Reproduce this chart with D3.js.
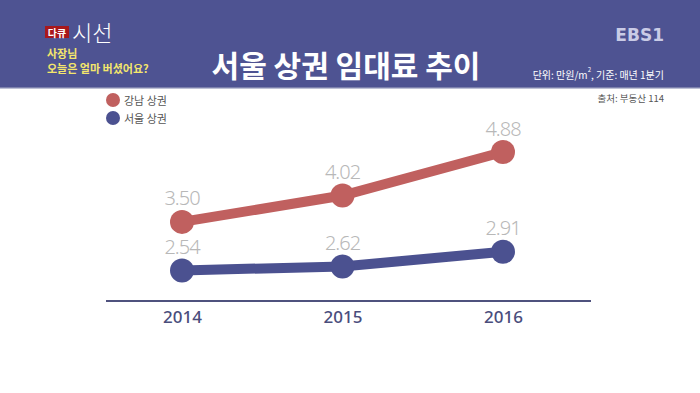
<!DOCTYPE html>
<html>
<head>
<meta charset="utf-8">
<script src="https://cdn.jsdelivr.net/npm/d3@7"></script>
<style>
  body { margin: 0; background: #fff; }
  text { font-family: "Noto Sans CJK KR", "Noto Sans", sans-serif; }
</style>
</head>
<body>
<div id="chart"></div>
<script>
/*
    서울 상권 임대료 추이 (단위: 만원/m²)
 */

var years = ['2014', '2015', '2016'];
var series_names = ['강남 상권', '서울 상권'];
var gangnam_values = [3.50, 4.02, 4.88];
var seoul_values = [2.54, 2.62, 2.91];
var series_colors = ['#c0605f', '#4b5190'];

var svg_size = {
    'width': 700,
    'height': 393
};

var svg = d3.select("#chart")
    .append("svg")
    .attr('width', svg_size.width)
    .attr('height', svg_size.height);

// header band
svg.append('rect')
    .attr('x', 0).attr('y', 0)
    .attr('width', svg_size.width).attr('height', 87)
    .style('fill', '#4e5392');
svg.append('rect')
    .attr('x', 0).attr('y', 87)
    .attr('width', svg_size.width).attr('height', 1.5)
    .style('fill', '#7d81ad');

// program logo
svg.append('rect')
    .attr('x', 45).attr('y', 26)
    .attr('width', 24).attr('height', 12)
    .style('fill', '#a8181c');
svg.append('text')
    .attr('x', 57).attr('y', 32)
    .attr('text-anchor', 'middle')
    .attr('dominant-baseline', 'central')
    .style('font-size', '10px').style('font-weight', 'bold')
    .style('fill', '#fff')
    .text('다큐');
svg.append('text')
    .attr('x', 72).attr('y', 41)
    .style('font-size', '22px').style('font-weight', '300')
    .style('fill', '#fff')
    .text('시선');
svg.append('text')
    .attr('x', 47).attr('y', 53)
    .attr('dominant-baseline', 'central')
    .style('font-size', '11px').style('font-weight', 'bold')
    .style('fill', '#f4e66c')
    .text('사장님');
svg.append('text')
    .attr('x', 47).attr('y', 68)
    .attr('dominant-baseline', 'central')
    .style('font-size', '11px').style('font-weight', 'bold')
    .style('fill', '#f4e66c')
    .text('오늘은 얼마 버셨어요?');

// title
svg.append('text')
    .attr('x', 346).attr('y', 64)
    .attr('text-anchor', 'middle')
    .attr('dominant-baseline', 'central')
    .style('font-size', '30px').style('font-weight', 'bold')
    .style('fill', '#fff')
    .text('서울 상권 임대료 추이');

svg.append('text')
    .attr('x', 664).attr('y', 35)
    .attr('text-anchor', 'end')
    .attr('dominant-baseline', 'central')
    .style('font-family', '"DejaVu Sans"')
    .style('font-size', '17px').style('font-weight', 'bold')
    .style('fill', '#c9cbe6')
    .text('EBS1');

var unit_text = svg.append('text')
    .attr('x', 664).attr('y', 74)
    .attr('text-anchor', 'end')
    .attr('dominant-baseline', 'central')
    .style('font-size', '10px')
    .style('fill', '#fff');
unit_text.append('tspan').text('단위: 만원/m');
unit_text.append('tspan').attr('dy', -5).style('font-size', '6px').text('2');
unit_text.append('tspan').attr('dy', 5).text(', 기준: 매년 1분기');

svg.append('text')
    .attr('x', 664).attr('y', 98)
    .attr('text-anchor', 'end')
    .attr('dominant-baseline', 'central')
    .style('font-size', '9.5px')
    .style('fill', '#555')
    .text('출처: 부동산 114');

// legend
var legend = svg.selectAll('.legend-entry')
    .data(series_names)
    .enter()
    .append('g')
    .attr('transform', function(d, i){
        return 'translate(113,' + (100 + 18*i) + ')';
    })
    .classed('legend-entry', true);
legend.append('circle')
    .attr('r', 7)
    .style('fill', function(d, i){ return series_colors[i]; });
legend.append('text')
    .attr('x', 11)
    .attr('dominant-baseline', 'central')
    .style('font-size', '11px')
    .style('fill', '#555')
    .text(function(d){ return d; });

// scales
var x_scale = d3.scalePoint()
    .domain(years)
    .range([182, 503]);

var y_scale = d3.scaleLinear()
    .domain([2.5, 4.9])
    .range([272.5, 151]);

// axis
var x_axis = d3.axisBottom(x_scale).tickSize(0).tickPadding(10);
var axis_group = svg.append('g')
    .attr('transform', 'translate(0,301)')
    .call(x_axis);
axis_group.select('.domain')
    .attr('d', 'M106,0H591')
    .style('stroke', '#4f527e')
    .style('stroke-width', '2px');
axis_group.selectAll('text')
    .style('font-family', '"Noto Sans", sans-serif')
    .style('font-size', '17px')
    .style('font-weight', '500')
    .style('fill', '#4a4d7c');

var series = [gangnam_values, seoul_values];

var line = d3.line()
    .x(function(d, i){ return x_scale(years[i]); })
    .y(function(d){ return y_scale(d); });

var series_group = svg.selectAll('.series')
    .data(series)
    .enter()
    .append('g')
    .classed('series', true);

series_group.append('path')
    .attr('d', function(d){ return line(d); })
    .style('fill', 'none')
    .style('stroke', function(d, i){ return series_colors[i]; })
    .style('stroke-width', '10px');

series_group.each(function(values, s){
    var g = d3.select(this);
    g.selectAll('circle')
        .data(values)
        .enter()
        .append('circle')
        .attr('cx', function(d, i){ return x_scale(years[i]); })
        .attr('cy', function(d){ return y_scale(d); })
        .attr('r', 12)
        .style('fill', series_colors[s]);
    g.selectAll('.value-label')
        .data(values)
        .enter()
        .append('text')
        .attr('x', function(d, i){ return x_scale(years[i]); })
        .attr('y', function(d){ return y_scale(d) - 24; })
        .attr('text-anchor', 'middle')
        .attr('dominant-baseline', 'central')
        .style('font-family', '"Noto Sans", sans-serif')
        .style('font-size', '20px')
        .style('font-weight', '300')
        .style('letter-spacing', '-1px')
        .style('fill', '#b8b8b8')
        .text(function(d){ return d.toFixed(2); })
        .classed('value-label', true);
});
</script>
</body>
</html>
